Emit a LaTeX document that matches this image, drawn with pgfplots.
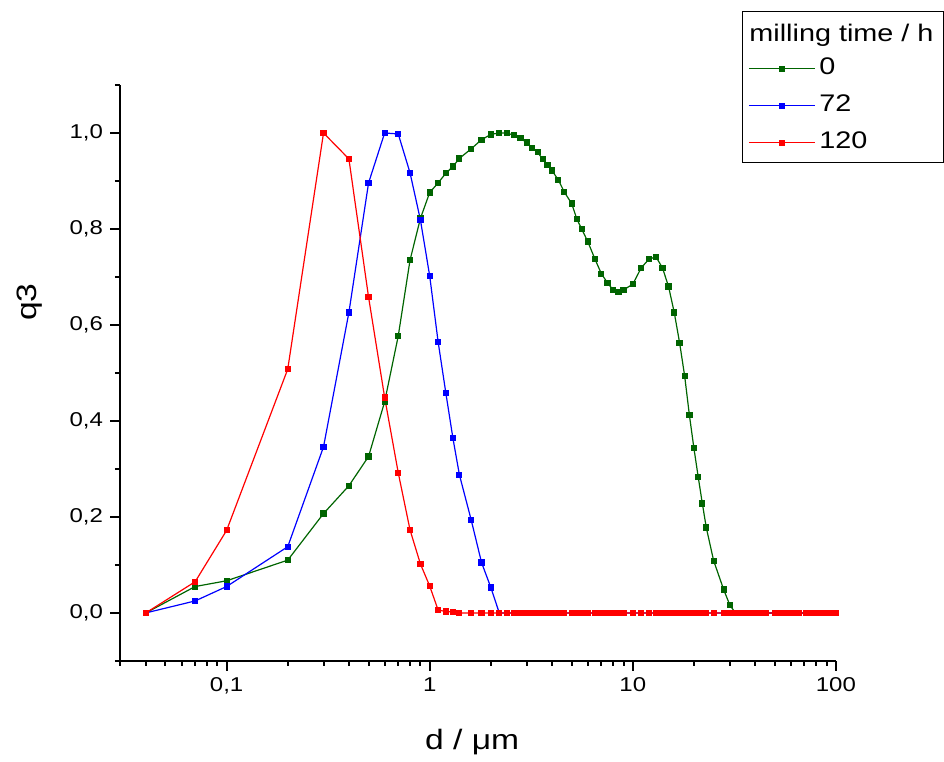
\documentclass[border=0pt]{standalone}
\usepackage{fontspec}
\setmainfont{Liberation Sans}[FakeStretch=1.2]
\usepackage{pgfplots}
\pgfplotsset{compat=1.18}
\definecolor{cGreen}{HTML}{006400}
\definecolor{cBlue}{HTML}{0000FF}
\definecolor{cRed}{HTML}{FF0000}

\begin{document}
\begin{tikzpicture}
\begin{axis}[
    scale only axis,
    width=358pt, height=288pt,
    xmode=log,
    xmin=0.02985, xmax=100,
    ymin=-0.1, ymax=1.1,
    axis x line*=bottom, axis y line*=left,
    axis line style={line width=1pt},
    tick style={black, line width=1pt},
    tick align=outside,
    major tick length=5pt, minor tick length=2.5pt,
    xtick={0.1,1,10,100},
    xticklabels={{0,1},1,10,100},
    minor xtick={0.03,0.04,0.05,0.06,0.07,0.08,0.09,0.2,0.3,0.4,0.5,0.6,0.7,0.8,0.9,2,3,4,5,6,7,8,9,20,30,40,50,60,70,80,90},
    ytick={0,0.2,0.4,0.6,0.8,1.0},
    minor ytick={-0.1,0.1,0.3,0.5,0.7,0.9,1.1},
    yticklabel style={/pgf/number format/.cd, use comma, fixed, fixed zerofill, precision=1, assume math mode=true},
    tick label style={font=\fontsize{10}{12}\selectfont},
    xlabel={d / μm}, ylabel={q3},
    label style={font=\fontsize{14}{16}\selectfont},
    xlabel style={at={(axis description cs:0.492,-0.14)}, anchor=center},
    ylabel style={at={(axis description cs:-0.126,0.623)}, anchor=center},
    legend style={at={(axis description cs:1.151,1.128)}, anchor=north east,
        draw=black, line width=0.5pt, font=\fontsize{12}{14}\selectfont,
        nodes={text height=9pt, text depth=3pt, inner sep=2pt},
        row sep=2.5pt, cells={anchor=west}},
    legend image code/.code={\draw[mark repeat=2,mark phase=2] plot coordinates {(0pt,0pt)(16.5pt,0pt)(33pt,0pt)};},
    every axis plot/.append style={line width=0.6pt, mark=square*, mark size=1.25pt},
]
\addlegendimage{empty legend}
\addlegendentry{\hspace*{-35pt}\raisebox{-2pt}{milling time / h}}

\addplot[color=cGreen, mark options={fill=cGreen}] coordinates {
(0.04,0)(0.07,0.055)(0.1,0.067)(0.2,0.110)(0.3,0.207)(0.4,0.265)(0.5,0.326)
(0.6,0.440)(0.7,0.577)(0.8,0.735)(0.9,0.822)(1.0,0.876)(1.1,0.896)(1.2,0.916)
(1.3,0.930)(1.4,0.947)(1.6,0.967)(1.8,0.986)(2.0,0.997)(2.2,1.000)(2.4,1.000)
(2.6,0.995)(2.8,0.989)(3.0,0.980)(3.2,0.969)(3.4,0.960)(3.6,0.945)(3.8,0.934)
(4.0,0.922)(4.3,0.902)(4.6,0.877)(5.0,0.853)(5.3,0.821)(5.6,0.800)(6.0,0.774)
(6.5,0.738)(7.0,0.707)(7.5,0.688)(8.0,0.673)(8.5,0.669)(9.0,0.673)(10,0.685)
(11,0.719)(12,0.737)(13,0.742)(14,0.719)(15,0.680)(16,0.626)(17,0.563)
(18,0.494)(19,0.412)(20,0.343)(21,0.283)(22,0.228)(23,0.178)(25,0.109)
(28,0.049)(30,0.017)(32,0)(34,0)(36,0)(38,0)(40,0)(43,0)(45,0)(50,0)(53,0)
(56,0)(60,0)(63,0)(66,0)(71,0)(75,0)(80,0)(85,0)(90,0)(95,0)(100,0)
};
\addlegendentry{0}

\addplot[color=cBlue, mark options={fill=cBlue}] coordinates {
(0.04,0)(0.07,0.025)(0.1,0.055)(0.2,0.138)(0.3,0.346)(0.4,0.626)(0.5,0.896)
(0.6,1.000)(0.7,0.998)(0.8,0.917)(0.9,0.819)(1.0,0.702)(1.1,0.565)(1.2,0.459)
(1.3,0.365)(1.4,0.288)(1.6,0.194)(1.8,0.105)(2.0,0.053)(2.2,0)(2.4,0)
(2.6,0)(2.8,0)(3.0,0)(3.2,0)(3.4,0)(3.6,0)(3.8,0)(4.0,0)(4.3,0)(4.6,0)
(5.0,0)(5.3,0)(5.6,0)(6.0,0)(6.5,0)(7.0,0)(7.5,0)(8.0,0)(8.5,0)(9.0,0)
(10,0)(11,0)(12,0)(13,0)(14,0)(15,0)(16,0)(17,0)(18,0)(19,0)(20,0)(21,0)
(22,0)(23,0)(25,0)(28,0)(30,0)(32,0)(34,0)(36,0)(38,0)(40,0)(43,0)(45,0)
(50,0)(53,0)(56,0)(60,0)(63,0)(66,0)(71,0)(75,0)(80,0)(85,0)(90,0)(95,0)(100,0)
};
\addlegendentry{72}

\addplot[color=cRed, mark options={fill=cRed}] coordinates {
(0.04,0)(0.07,0.065)(0.1,0.172)(0.2,0.508)(0.3,1.000)(0.4,0.946)(0.5,0.658)
(0.6,0.449)(0.7,0.292)(0.8,0.173)(0.9,0.102)(1.0,0.056)(1.1,0.006)(1.2,0.003)
(1.3,0.002)(1.4,0)(1.6,0)(1.8,0)(2.0,0)(2.2,0)(2.4,0)
(2.6,0)(2.8,0)(3.0,0)(3.2,0)(3.4,0)(3.6,0)(3.8,0)(4.0,0)(4.3,0)(4.6,0)
(5.0,0)(5.3,0)(5.6,0)(6.0,0)(6.5,0)(7.0,0)(7.5,0)(8.0,0)(8.5,0)(9.0,0)
(10,0)(11,0)(12,0)(13,0)(14,0)(15,0)(16,0)(17,0)(18,0)(19,0)(20,0)(21,0)
(22,0)(23,0)(25,0)(28,0)(30,0)(32,0)(34,0)(36,0)(38,0)(40,0)(43,0)(45,0)
(50,0)(53,0)(56,0)(60,0)(63,0)(66,0)(71,0)(75,0)(80,0)(85,0)(90,0)(95,0)(100,0)
};
\addlegendentry{120}

\coordinate (bbl) at (axis description cs:-0.1676,-0.1684);
\coordinate (btr) at (axis description cs:1.1508,1.1476);
\end{axis}
\path (bbl) rectangle (btr);
\end{tikzpicture}
\end{document}
